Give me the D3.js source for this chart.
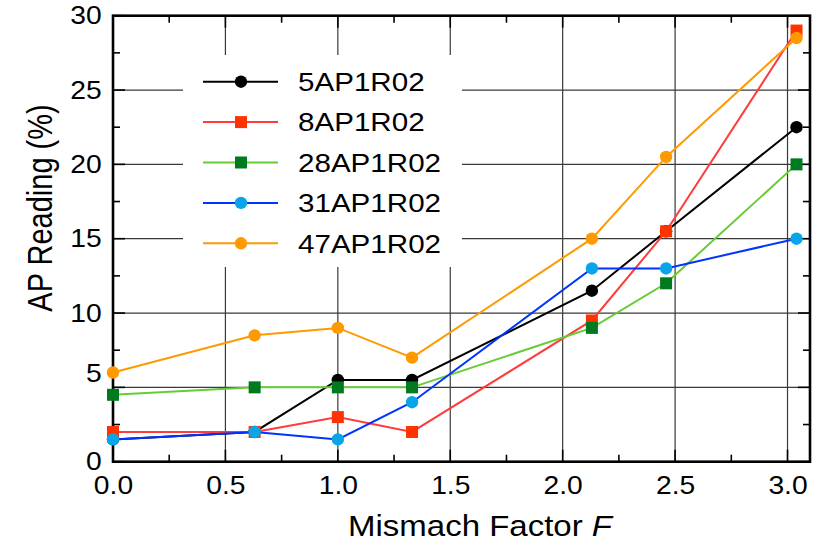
<!DOCTYPE html>
<html>
<head>
<meta charset="utf-8">
<script src="https://cdn.jsdelivr.net/npm/d3@7"></script>
<style>
  html, body { margin: 0; padding: 0; background: #fff; }
  svg { display: block; }
  text { font-family: "Liberation Sans", Arial, Helvetica, sans-serif; fill: #000; }
</style>
</head>
<body>
<svg id="chart" width="816" height="544"></svg>
<script>
// ---- data ----
const mismatchF = [0, 0.63, 1.0, 1.33, 2.13, 2.46, 3.04];
const seriesNames = ["5AP1R02", "8AP1R02", "28AP1R02", "31AP1R02", "47AP1R02"];
const s5AP1R02  = [1.5, 2.0, 5.5, 5.5, 11.5, 15.5, 22.5];
const s8AP1R02  = [2.0, 2.0, 3.0, 2.0, 9.5, 15.5, 29.0];
const s28AP1R02 = [4.5, 5.0, 5.0, 5.0, 9.0, 12.0, 20.0];
const s31AP1R02 = [1.5, 2.0, 1.5, 4.0, 13.0, 13.0, 15.0];
const s47AP1R02 = [6.0, 8.5, 9.0, 7.0, 15.0, 20.5, 28.5];
const xTicks = [0, 0.5, 1.0, 1.5, 2.0, 2.5, 3.0];
const yTicks = [0, 5, 10, 15, 20, 25, 30];

// ---- styles ----
const styles = [
  { line: "#000000", fill: "#000000", shape: "circle" },
  { line: "#ff3b3b", fill: "#ff3300", shape: "square" },
  { line: "#66cc33", fill: "#007a1f", shape: "square" },
  { line: "#0033ff", fill: "#0aa5e8", shape: "circle" },
  { line: "#ff9900", fill: "#ff9900", shape: "circle" }
];
const allSeries = [s5AP1R02, s8AP1R02, s28AP1R02, s31AP1R02, s47AP1R02];
const STRETCH = 1.13;

const svg = d3.select("#chart");
const L = 113, R = 810, T = 15.7, B = 461.7;
const x = d3.scaleLinear().domain([0, 3.1]).range([L, R]);
const y = d3.scaleLinear().domain([0, 30]).range([B, T]);

// gridlines
const grid = svg.append("g");
grid.selectAll("line.gx").data(xTicks.filter(d => d > 0)).join("line")
  .attr("x1", d => x(d)).attr("x2", d => x(d)).attr("y1", T).attr("y2", B)
  .attr("stroke", "#3a3a3a").attr("stroke-width", 1.2);
grid.selectAll("line.gy").data(yTicks.filter(d => d > 0 && d < 30)).join("line")
  .attr("y1", d => y(d)).attr("y2", d => y(d)).attr("x1", L).attr("x2", R)
  .attr("stroke", "#3a3a3a").attr("stroke-width", 1.2);

// legend background (covers grid)
svg.append("rect").attr("x", 183).attr("y", 55).attr("width", 279).attr("height", 212)
  .attr("fill", "#fff");

// minor / major ticks on all four sides (inward)
const minorX = d3.range(0, 3.11, 0.25);
const minorY = d3.range(0, 30.01, 2.5);
const ticks = svg.append("g").attr("stroke", "#000").attr("stroke-width", 1.6);
minorX.forEach(v => {
  const major = Math.abs(v * 2 - Math.round(v * 2)) < 1e-6;
  const len = major ? 12 : 7;
  ticks.append("line").attr("x1", x(v)).attr("x2", x(v)).attr("y1", B).attr("y2", B - len);
  ticks.append("line").attr("x1", x(v)).attr("x2", x(v)).attr("y1", T).attr("y2", T + len);
});
minorY.forEach(v => {
  const major = Math.abs(v / 5 - Math.round(v / 5)) < 1e-6;
  const len = major ? 12 : 7;
  ticks.append("line").attr("y1", y(v)).attr("y2", y(v)).attr("x1", L).attr("x2", L + len);
  ticks.append("line").attr("y1", y(v)).attr("y2", y(v)).attr("x1", R).attr("x2", R - len);
});

// axes labels via d3 axes
const xAxis = svg.append("g").attr("transform", `translate(0,${B})`)
  .call(d3.axisBottom(x).tickValues(xTicks).tickFormat(d3.format(".1f")).tickSize(0).tickPadding(14.5));
xAxis.select(".domain").remove();
xAxis.selectAll(".tick text").attr("font-size", 25).attr("font-family", "Liberation Sans, Arial, sans-serif")
  .attr("transform", `scale(${STRETCH},1)`);

const yAxis = svg.append("g").attr("transform", `translate(${L},0)`)
  .call(d3.axisLeft(y).tickValues(yTicks).tickFormat(d3.format("d")).tickSize(0).tickPadding(10));
yAxis.select(".domain").remove();
yAxis.selectAll(".tick text").attr("font-size", 25).attr("font-family", "Liberation Sans, Arial, sans-serif")
  .attr("transform", `scale(${STRETCH},1)`)
  .attr("dy", d => d === 5 ? "-0.24em" : "0.32em");

// frame
svg.append("rect").attr("x", L).attr("y", T).attr("width", R - L).attr("height", B - T)
  .attr("fill", "none").attr("stroke", "#000").attr("stroke-width", 2.6);

// series
const line = d3.line().x((d, i) => x(mismatchF[i])).y(d => y(d));
function drawMarker(g, shape, fill, cx, cy) {
  if (shape === "circle") {
    g.append("circle").attr("cx", cx).attr("cy", cy).attr("r", 6.2).attr("fill", fill);
  } else {
    g.append("rect").attr("x", cx - 6).attr("y", cy - 6).attr("width", 12).attr("height", 12).attr("fill", fill);
  }
}
allSeries.forEach((vals, si) => {
  const st = styles[si];
  const g = svg.append("g");
  g.append("path").datum(vals).attr("d", line).attr("fill", "none")
    .attr("stroke", st.line).attr("stroke-width", 2);
  vals.forEach((v, i) => drawMarker(g, st.shape, st.fill, x(mismatchF[i]), y(v)));
});

// legend
const leg = svg.append("g");
seriesNames.forEach((name, i) => {
  const st = styles[i];
  const ly = 81.7 + i * 40.4;
  leg.append("line").attr("x1", 203).attr("x2", 278).attr("y1", ly).attr("y2", ly)
    .attr("stroke", st.line).attr("stroke-width", 2);
  drawMarker(leg, st.shape, st.fill, 241, ly);
  leg.append("text").attr("transform", `translate(298,${ly + 9.2}) scale(1.16,1)`)
    .attr("font-size", 25.5).text(name);
});

// axis titles
const xt = svg.append("text").attr("transform", `translate(480,536) scale(1.1,1)`)
  .attr("text-anchor", "middle").attr("font-size", 30);
xt.append("tspan").text("Mismach Factor ");
xt.append("tspan").attr("font-style", "italic").text("F");

svg.append("text").attr("transform", `translate(52,208) scale(1.22,1) rotate(-90)`)
  .attr("text-anchor", "middle").attr("font-size", 29).text("AP Reading (%)");
</script>
</body>
</html>
